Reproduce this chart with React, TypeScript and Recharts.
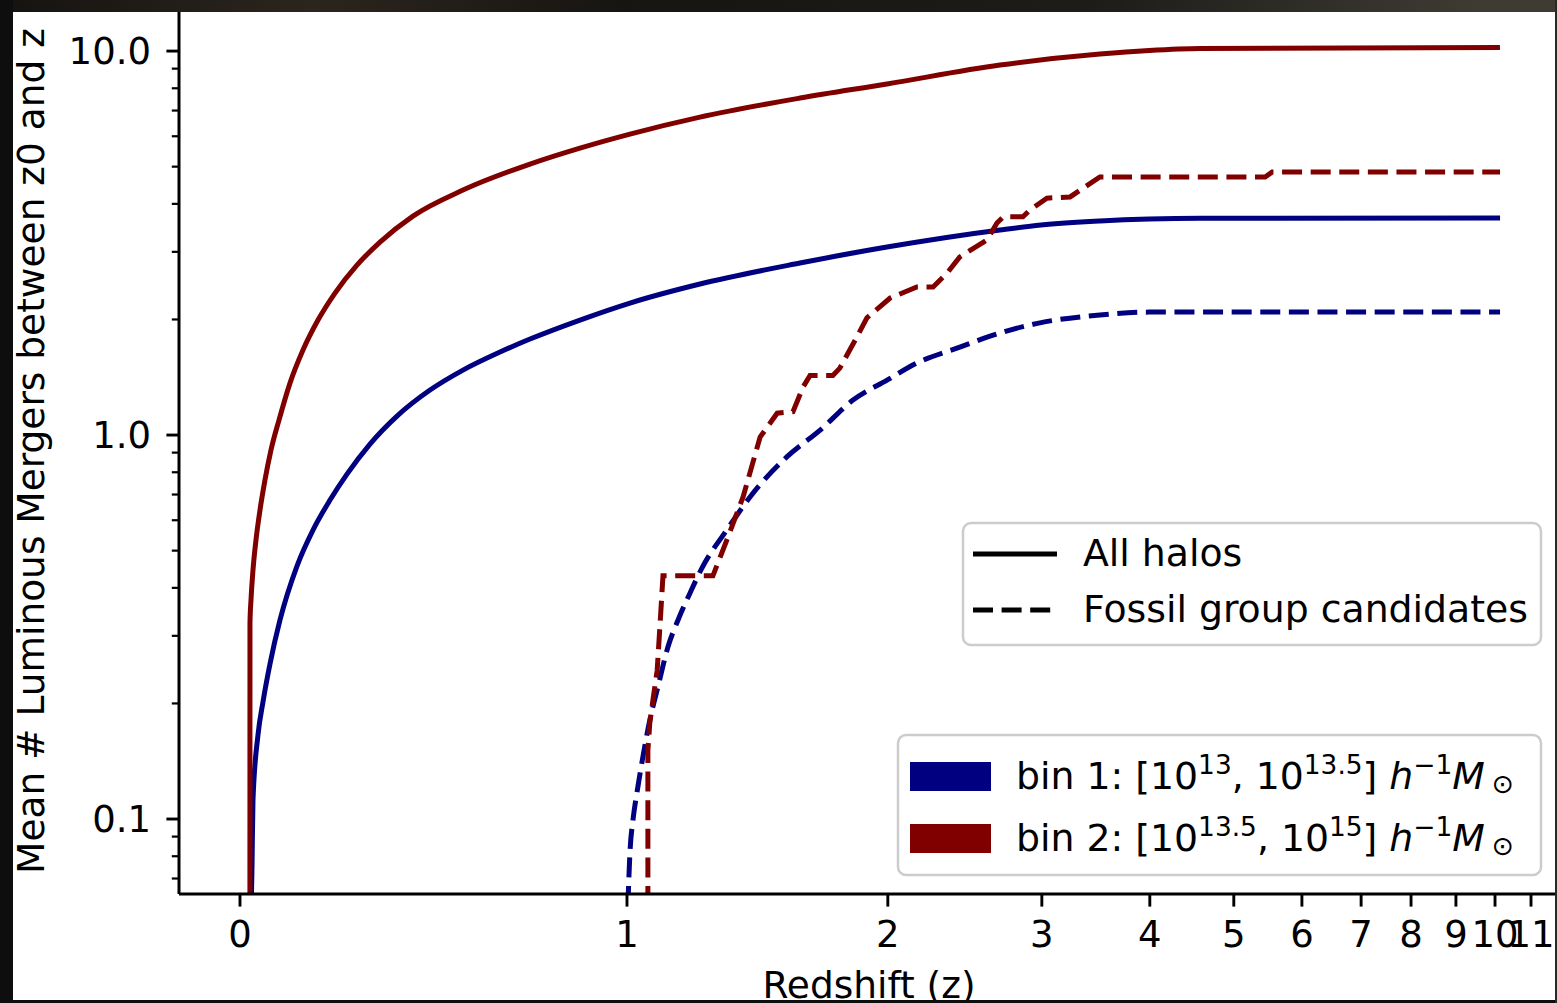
import React from 'react';
import { LineChart, Line, XAxis, YAxis } from 'recharts';

const FONT = '"DejaVu Sans", "Liberation Sans", sans-serif';
const BLUE = '#000080';
const RED = '#800000';

// x axis: position along the (non-linear) redshift axis, tick labels are redshifts
const xTickPositions = [0, 1, 1.674, 2.072, 2.351, 2.568, 2.744, 2.897, 3.026, 3.142, 3.243, 3.336];
const xTickLabels = ['0', '1', '2', '3', '4', '5', '6', '7', '8', '9', '10', '11'];
const xDomain = [-0.1576, 3.398];

// y axis (log)
const yMajorTicks = [0.1, 1, 10];
const yMajorLabels = ['0.1', '1.0', '10.0'];
const yMinorTicks = [0.07, 0.08, 0.09, 0.2, 0.3, 0.4, 0.5, 0.6, 0.7, 0.8, 0.9, 2, 3, 4, 5, 6, 7, 8, 9];
const yDomain = [0.06379, 12.64];

// bin 1, all halos (blue solid)
const bin1AllX = [0.024, 0.031, 0.0336, 0.0465, 0.0594, 0.0775, 0.1034, 0.1473, 0.1886, 0.2326, 0.2765, 0.3359, 0.4057, 0.491, 0.5762, 0.6718, 0.7494, 0.8786, 1.0078, 1.1886, 1.447, 1.6718, 1.9638, 2.0698, 2.2222, 2.3488, 2.4806, 3.256];
const bin1AllY = [0.04, 0.075, 0.1121, 0.1655, 0.2017, 0.2532, 0.3299, 0.4559, 0.5657, 0.6772, 0.7914, 0.9475, 1.1205, 1.3098, 1.4765, 1.645, 1.7783, 1.9929, 2.2067, 2.4734, 2.8054, 3.0873, 3.4197, 3.523, 3.609, 3.652, 3.67, 3.675];

// bin 2, all halos (red solid)
const bin2AllX = [0.0255, 0.0258, 0.0284, 0.0336, 0.0413, 0.0517, 0.0646, 0.0801, 0.1008, 0.1292, 0.1628, 0.2016, 0.2455, 0.3023, 0.3618, 0.447, 0.5762, 0.7494, 0.8786, 1.0078, 1.1886, 1.447, 1.6718, 1.9638, 2.2222, 2.3488, 2.4806, 3.2558];
const bin2AllY = [0.02, 0.3238, 0.3718, 0.4451, 0.5328, 0.6378, 0.7635, 0.9141, 1.094, 1.3656, 1.6648, 1.9929, 2.3432, 2.771, 3.18, 3.7178, 4.3451, 5.0785, 5.5886, 6.0789, 6.7301, 7.5431, 8.2088, 9.195, 9.8217, 10.03, 10.151, 10.212];

// bin 1, fossil group candidates (blue dashed)
const bin1FossilX = [1.0, 1.008, 1.0155, 1.028, 1.041, 1.059, 1.08, 1.106, 1.132, 1.163, 1.195, 1.258, 1.318, 1.413, 1.499, 1.584, 1.672, 1.749, 1.86, 1.964, 2.067, 2.222, 2.349, 3.256];
const bin1FossilY = [0.05, 0.083, 0.0994, 0.121, 0.145, 0.181, 0.221, 0.281, 0.33, 0.388, 0.453, 0.566, 0.69, 0.877, 1.03, 1.233, 1.39, 1.54, 1.694, 1.844, 1.96, 2.054, 2.09, 2.09];

// bin 2, fossil group candidates (red dashed)
const bin2FossilX = [1.054, 1.054, 1.059, 1.067, 1.078, 1.085, 1.093, 1.222, 1.261, 1.3, 1.344, 1.388, 1.429, 1.455, 1.473, 1.532, 1.55, 1.594, 1.62, 1.68, 1.749, 1.791, 1.827, 1.86, 1.93, 1.956, 1.972, 2.023, 2.041, 2.085, 2.145, 2.222, 2.649, 2.667, 3.256];
const bin2FossilY = [0.05, 0.151, 0.178, 0.204, 0.244, 0.316, 0.43, 0.43, 0.5425, 0.69, 0.988, 1.14, 1.15, 1.334, 1.43, 1.43, 1.494, 1.8, 2.02, 2.275, 2.43, 2.43, 2.64, 2.91, 3.22, 3.565, 3.7, 3.7, 3.855, 4.14, 4.17, 4.7, 4.7, 4.84, 4.84];

const legendStyleLabels = ['All halos', 'Fossil group candidates'];
const yLabel = 'Mean # Luminous Mergers between z0 and z';
const xLabel = 'Redshift (z)';

const toPoints = (xs: number[], ys: number[]) => xs.map((x, i) => ({ x, y: ys[i] }));

const bin1All = toPoints(bin1AllX, bin1AllY);
const bin2All = toPoints(bin2AllX, bin2AllY);
const bin1Fossil = toPoints(bin1FossilX, bin1FossilY);
const bin2Fossil = toPoints(bin2FossilX, bin2FossilY);

const DASH = '20 8.6';
const LW = 5;
const LEG_FS = 37.8;
const SUP_FS = 26.4;

const YTick = (props: any) => {
  const { x, y, payload } = props;
  const v = payload.value;
  const mi = yMajorTicks.indexOf(v);
  const major = mi >= 0;
  return (
    <g>
      <line x1={x} x2={x - (major ? 12.6 : 7.2)} y1={y} y2={y} stroke="#000" strokeWidth={major ? 2.9 : 2.2} />
      {major && (
        <text x={x - 28} y={y + 13} textAnchor="end" fontSize={37} fontFamily={FONT} fill="#000">
          {yMajorLabels[mi]}
        </text>
      )}
    </g>
  );
};

const XTick = (props: any) => {
  const { x, y, payload } = props;
  const i = xTickPositions.indexOf(payload.value);
  return (
    <g>
      <line x1={x} x2={x} y1={y} y2={y + 12.6} stroke="#000" strokeWidth={2.9} />
      <text x={x} y={y + 53} textAnchor="middle" fontSize={37} fontFamily={FONT} fill="#000">
        {xTickLabels[i]}
      </text>
    </g>
  );
};

export default function App() {
  const allYTicks = [...yMinorTicks, ...yMajorTicks].sort((a, b) => a - b);
  return (
    <div style={{ position: 'absolute', left: 0, top: 0, width: 1557, height: 1003, background: '#0e0e0e', overflow: 'hidden' }}>
      <div style={{ position: 'absolute', left: 0, top: 0, width: 1557, height: 12, background: 'linear-gradient(to right, #151311 0%, #2b251d 20%, #171512 40%, #1d1c19 70%, #3e3b33 95%)' }} />
      <div style={{ position: 'absolute', left: 13, top: 12, width: 1542, height: 988, background: '#ffffff' }} />
      <div style={{ position: 'absolute', left: 0, top: 0 }}>
        <LineChart width={1557} height={1003} margin={{ top: 12, right: 2, bottom: 0, left: 0 }}>
          <XAxis
            type="number"
            dataKey="x"
            domain={xDomain}
            allowDataOverflow
            ticks={xTickPositions}
            interval={0}
            tickSize={0}
            tickMargin={0}
            tickLine={false}
            height={109}
            axisLine={{ stroke: '#000', strokeWidth: 3 }}
            tick={(p: any) => <XTick {...p} />}
          />
          <YAxis
            type="number"
            scale="log"
            domain={yDomain}
            allowDataOverflow
            ticks={allYTicks}
            interval={0}
            tickSize={0}
            tickMargin={0}
            tickLine={false}
            width={179}
            axisLine={{ stroke: '#000', strokeWidth: 3 }}
            tick={(p: any) => <YTick {...p} />}
          />
          <Line data={bin1All} dataKey="y" type="monotoneX" stroke={BLUE} strokeWidth={LW} dot={false} activeDot={false} isAnimationActive={false} />
          <Line data={bin2All} dataKey="y" type="monotoneX" stroke={RED} strokeWidth={LW} dot={false} activeDot={false} isAnimationActive={false} />
          <Line data={bin1Fossil} dataKey="y" type="monotoneX" stroke={BLUE} strokeWidth={LW} strokeDasharray={DASH} dot={false} activeDot={false} isAnimationActive={false} />
          <Line data={bin2Fossil} dataKey="y" type="linear" stroke={RED} strokeWidth={LW} strokeDasharray={DASH} dot={false} activeDot={false} isAnimationActive={false} />
        </LineChart>
      </div>
      <svg width={1557} height={1003} style={{ position: 'absolute', left: 0, top: 0, pointerEvents: 'none' }}>
        {/* axis labels */}
        <text transform="translate(44,451) rotate(-90)" textAnchor="middle" fontSize={37.5} fontFamily={FONT} fill="#000">
          {yLabel}
        </text>
        <text x={869} y={998} textAnchor="middle" fontSize={37.5} fontFamily={FONT} fill="#000">
          {xLabel}
        </text>

        {/* legend: line styles */}
        <rect x={963} y={523} width={578} height={122} rx={8} ry={8} fill="#ffffff" fillOpacity={0.8} stroke="#cccccc" strokeWidth={2.5} />
        <line x1={973} x2={1057} y1={554} y2={554} stroke="#000" strokeWidth={LW} />
        <line x1={973} x2={1057} y1={610} y2={610} stroke="#000" strokeWidth={LW} strokeDasharray={DASH} />
        <text x={1083} y={566} fontSize={LEG_FS} fontFamily={FONT} fill="#000">{legendStyleLabels[0]}</text>
        <text x={1083} y={622} fontSize={LEG_FS} fontFamily={FONT} fill="#000">{legendStyleLabels[1]}</text>

        {/* legend: mass bins */}
        <rect x={898} y={735} width={643} height={140} rx={8} ry={8} fill="#ffffff" fillOpacity={0.8} stroke="#cccccc" strokeWidth={2.5} />
        <rect x={910} y={762} width={81} height={29} fill={BLUE} />
        <rect x={910} y={824} width={81} height={29} fill={RED} />
        <text x={1016} y={789} fontSize={LEG_FS} fontFamily={FONT} fill="#000">
          <tspan>{'bin 1: [10'}</tspan>
          <tspan dy={-15} fontSize={SUP_FS}>13</tspan>
          <tspan dy={15}>{', 10'}</tspan>
          <tspan dy={-15} fontSize={SUP_FS}>13.5</tspan>
          <tspan dy={15}>{'] '}</tspan>
          <tspan fontStyle="italic">h</tspan>
          <tspan dy={-15} fontSize={SUP_FS}>{'\u22121'}</tspan>
          <tspan dy={15} fontStyle="italic">M</tspan>
          <tspan dy={4} dx={7} fontSize={SUP_FS}>{'\u2299'}</tspan>
        </text>
        <text x={1016} y={851} fontSize={LEG_FS} fontFamily={FONT} fill="#000">
          <tspan>{'bin 2: [10'}</tspan>
          <tspan dy={-15} fontSize={SUP_FS}>13.5</tspan>
          <tspan dy={15}>{', 10'}</tspan>
          <tspan dy={-15} fontSize={SUP_FS}>15</tspan>
          <tspan dy={15}>{'] '}</tspan>
          <tspan fontStyle="italic">h</tspan>
          <tspan dy={-15} fontSize={SUP_FS}>{'\u22121'}</tspan>
          <tspan dy={15} fontStyle="italic">M</tspan>
          <tspan dy={4} dx={7} fontSize={SUP_FS}>{'\u2299'}</tspan>
        </text>
      </svg>
      <div style={{ position: 'absolute', left: 0, top: 1000, width: 1557, height: 3, background: '#0e0e0e' }} />
      <div style={{ position: 'absolute', left: 1555, top: 0, width: 2, height: 1003, background: '#2a2824' }} />
      <div style={{ position: 'absolute', left: 0, top: 0, width: 13, height: 1003, background: '#0e0e0e' }} />
    </div>
  );
}
